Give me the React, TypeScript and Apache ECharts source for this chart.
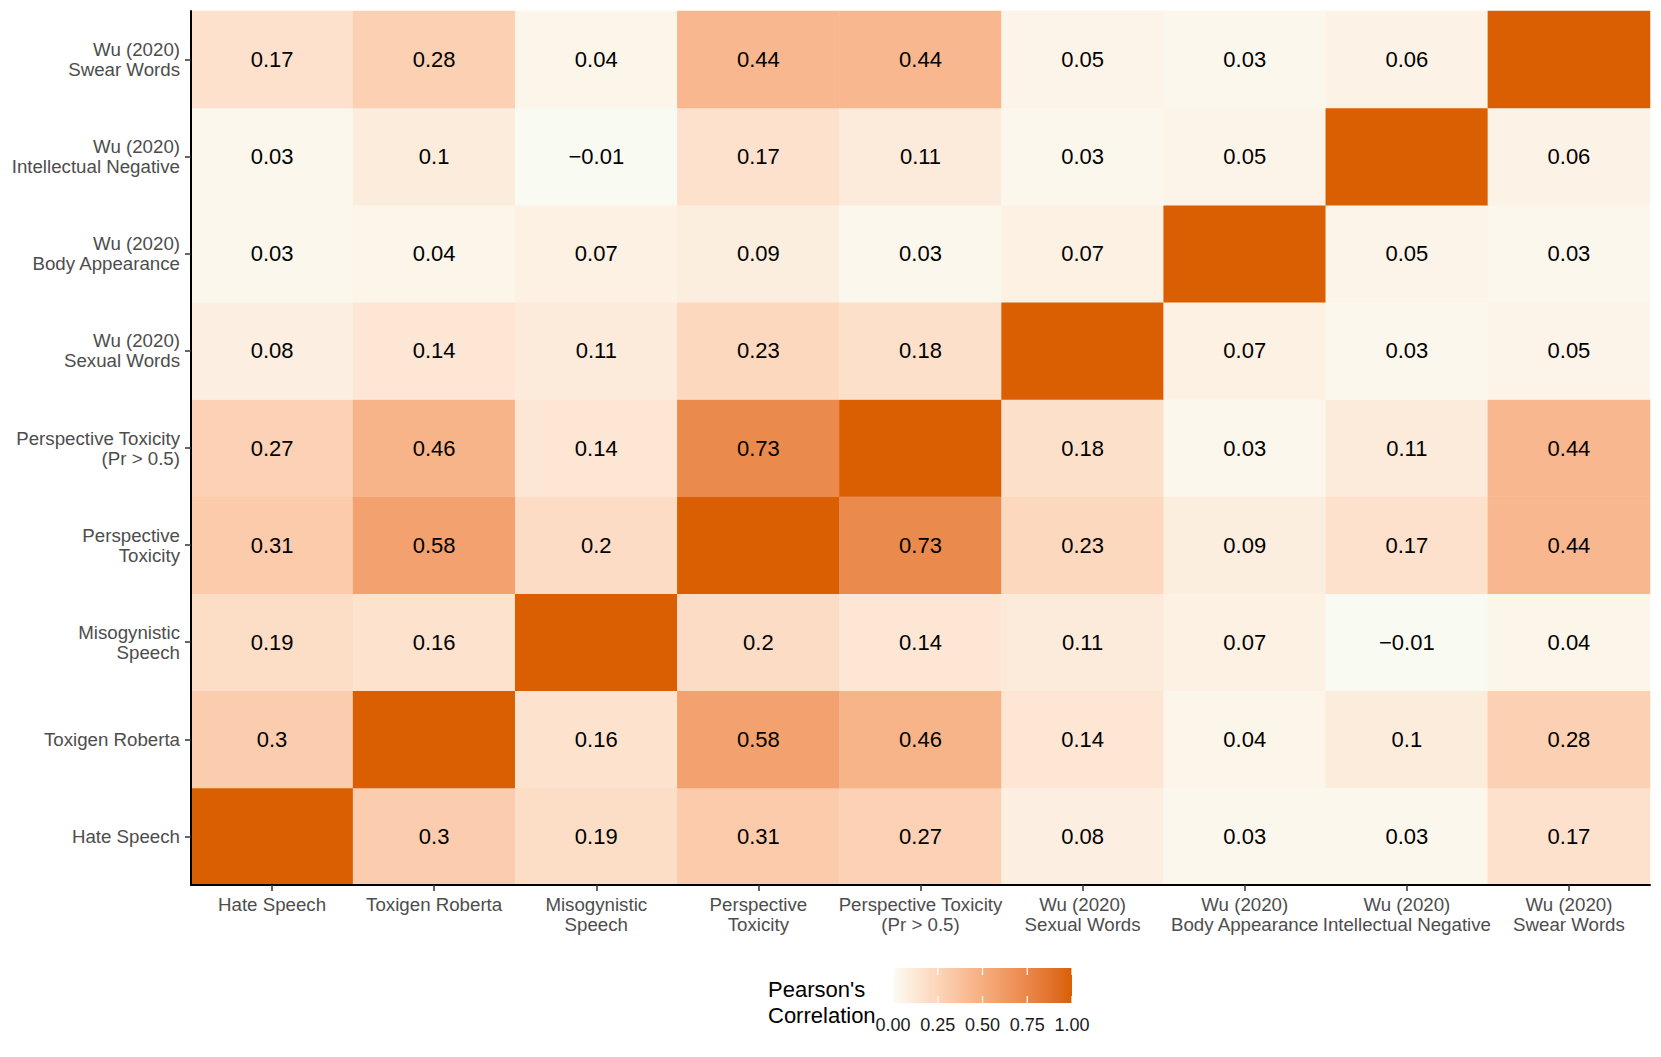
import React, { useEffect, useRef } from "react";
import * as echarts from "echarts";

const categories = [
  "Hate Speech",
  "Toxigen Roberta",
  "Misogynistic\nSpeech",
  "Perspective\nToxicity",
  "Perspective Toxicity\n(Pr > 0.5)",
  "Wu (2020)\nSexual Words",
  "Wu (2020)\nBody Appearance",
  "Wu (2020)\nIntellectual Negative",
  "Wu (2020)\nSwear Words",
];

// rows from bottom (y index 0) to top; each row lists values along x
const rowHateSpeech = [1, 0.3, 0.19, 0.31, 0.27, 0.08, 0.03, 0.03, 0.17];
const rowToxigen = [0.3, 1, 0.16, 0.58, 0.46, 0.14, 0.04, 0.1, 0.28];
const rowMisogynistic = [0.19, 0.16, 1, 0.2, 0.14, 0.11, 0.07, -0.01, 0.04];
const rowPerspective = [0.31, 0.58, 0.2, 1, 0.73, 0.23, 0.09, 0.17, 0.44];
const rowPerspective05 = [0.27, 0.46, 0.14, 0.73, 1, 0.18, 0.03, 0.11, 0.44];
const rowSexual = [0.08, 0.14, 0.11, 0.23, 0.18, 1, 0.07, 0.03, 0.05];
const rowBody = [0.03, 0.04, 0.07, 0.09, 0.03, 0.07, 1, 0.05, 0.03];
const rowIntellectual = [0.03, 0.1, -0.01, 0.17, 0.11, 0.03, 0.05, 1, 0.06];
const rowSwear = [0.17, 0.28, 0.04, 0.44, 0.44, 0.05, 0.03, 0.06, 1];

const rows = [
  rowHateSpeech,
  rowToxigen,
  rowMisogynistic,
  rowPerspective,
  rowPerspective05,
  rowSexual,
  rowBody,
  rowIntellectual,
  rowSwear,
];

const legendTicks = [0, 0.25, 0.5, 0.75, 1];

const HIGH = [217, 95, 2];
const MID = [251, 252, 244];
const LOW = [27, 158, 119];

function toLin(c: number) {
  c /= 255;
  return c <= 0.04045 ? c / 12.92 : Math.pow((c + 0.055) / 1.055, 2.4);
}
function fromLin(c: number) {
  const v = c <= 0.0031308 ? 12.92 * c : 1.055 * Math.pow(c, 1 / 2.4) - 0.055;
  return Math.round(Math.max(0, Math.min(1, v)) * 255);
}
function rgbToLab(rgb: number[]) {
  const r = toLin(rgb[0]), g = toLin(rgb[1]), b = toLin(rgb[2]);
  const X = (0.4124 * r + 0.3576 * g + 0.1805 * b) / 0.95047;
  const Y = 0.2126 * r + 0.7152 * g + 0.0722 * b;
  const Z = (0.0193 * r + 0.1192 * g + 0.9505 * b) / 1.08883;
  const f = (t: number) => (t > 0.008856 ? Math.cbrt(t) : 7.787 * t + 16 / 116);
  const fx = f(X), fy = f(Y), fz = f(Z);
  return [116 * fy - 16, 500 * (fx - fy), 200 * (fy - fz)];
}
function labToRgb(lab: number[]) {
  const fy = (lab[0] + 16) / 116;
  const fx = fy + lab[1] / 500;
  const fz = fy - lab[2] / 200;
  const inv = (t: number) => (t * t * t > 0.008856 ? t * t * t : (t - 16 / 116) / 7.787);
  const X = inv(fx) * 0.95047, Y = inv(fy), Z = inv(fz) * 1.08883;
  const r = 3.2406 * X - 1.5372 * Y - 0.4986 * Z;
  const g = -0.9689 * X + 1.8758 * Y + 0.0415 * Z;
  const b = 0.0557 * X - 0.204 * Y + 1.057 * Z;
  return `rgb(${fromLin(r)},${fromLin(g)},${fromLin(b)})`;
}
const labHigh = rgbToLab(HIGH), labMid = rgbToLab(MID), labLow = rgbToLab(LOW);
function colorFor(v: number) {
  const t = Math.min(1, Math.abs(v));
  const end = v >= 0 ? labHigh : labLow;
  return labToRgb([0, 1, 2].map((i) => labMid[i] + (end[i] - labMid[i]) * t));
}

const FONT = "'Liberation Sans', Arial, Helvetica, sans-serif";

export default function App() {
  const ref = useRef<HTMLDivElement>(null);
  useEffect(() => {
    document.body.style.margin = "0";
    if (!ref.current) return;
    const chart = echarts.init(ref.current, null, { renderer: "svg" });

    const data: any[] = [];
    rows.forEach((row, yi) => {
      row.forEach((v, xi) => {
        data.push({
          value: [xi, yi, v],
          label: { show: xi !== yi },
        });
      });
    });

    // colour ramp from -1 to 1 in Lab space (scale_fill_gradient2 style)
    const ramp: string[] = [];
    for (let i = 0; i <= 200; i++) ramp.push(colorFor(-1 + i / 100));

    const barX = 893, barY = 968, barW = 179, barH = 35;
    const stops: any[] = [];
    for (let i = 0; i <= 20; i++) stops.push({ offset: i / 20, color: colorFor(i / 20) });

    const graphics: any[] = [
      {
        type: "text",
        left: 768,
        top: 976,
        style: {
          text: "Pearson's\nCorrelation",
          font: `22px ${FONT}`,
          lineHeight: 26,
          fill: "#000",
        },
      },
      {
        type: "rect",
        shape: { x: barX, y: barY, width: barW, height: barH },
        style: {
          fill: { type: "linear", x: 0, y: 0, x2: 1, y2: 0, colorStops: stops },
        },
      },
    ];
    legendTicks.forEach((t) => {
      const x = barX + t * barW;
      graphics.push({
        type: "line",
        shape: { x1: x, y1: barY, x2: x, y2: barY + 7 },
        style: { stroke: "#fff", lineWidth: 1.2 },
      });
      graphics.push({
        type: "line",
        shape: { x1: x, y1: barY + barH - 7, x2: x, y2: barY + barH },
        style: { stroke: "#fff", lineWidth: 1.2 },
      });
      graphics.push({
        type: "text",
        x,
        y: 1025,
        style: {
          text: t.toFixed(2),
          font: `18px ${FONT}`,
          fill: "#1a1a1a",
          textAlign: "center",
          textVerticalAlign: "middle",
        },
      });
    });

    chart.setOption({
      animation: false,
      textStyle: { fontFamily: FONT },
      grid: { left: 191, top: 11, width: 1459, height: 874 },
      visualMap: {
        type: "continuous",
        show: false,
        min: -1,
        max: 1,
        dimension: 2,
        seriesIndex: 0,
        inRange: { color: ramp },
      },
      xAxis: {
        type: "category",
        data: categories,
        axisLine: { show: true, lineStyle: { color: "#000", width: 2 } },
        axisTick: { show: true, alignWithLabel: true, length: 6, lineStyle: { color: "#333", width: 1.5 } },
        axisLabel: {
          interval: 0,
          hideOverlap: false,
          color: "#4d4d4d",
          fontSize: 18.7,
          lineHeight: 20,
          margin: 9,
          fontFamily: FONT,
        },
        splitLine: { show: false },
        z: 10,
      },
      yAxis: {
        type: "category",
        data: categories,
        axisLine: { show: true, lineStyle: { color: "#000", width: 2 } },
        axisTick: { show: true, alignWithLabel: true, length: 6, lineStyle: { color: "#333", width: 1.5 } },
        axisLabel: {
          interval: 0,
          color: "#4d4d4d",
          fontSize: 18.7,
          lineHeight: 20,
          margin: 11,
          fontFamily: FONT,
        },
        splitLine: { show: false },
        z: 10,
      },
      graphic: graphics,
      series: [
        {
          type: "heatmap",
          data,
          label: {
            show: true,
            color: "#000",
            fontSize: 22,
            fontFamily: FONT,
            formatter: (p: any) => String(p.value[2]).replace("-", "\u2212"),
          },
          emphasis: { disabled: true },
        },
      ],
    });
    return () => chart.dispose();
  }, []);
  return <div ref={ref} style={{ width: 1661, height: 1057 }} />;
}
